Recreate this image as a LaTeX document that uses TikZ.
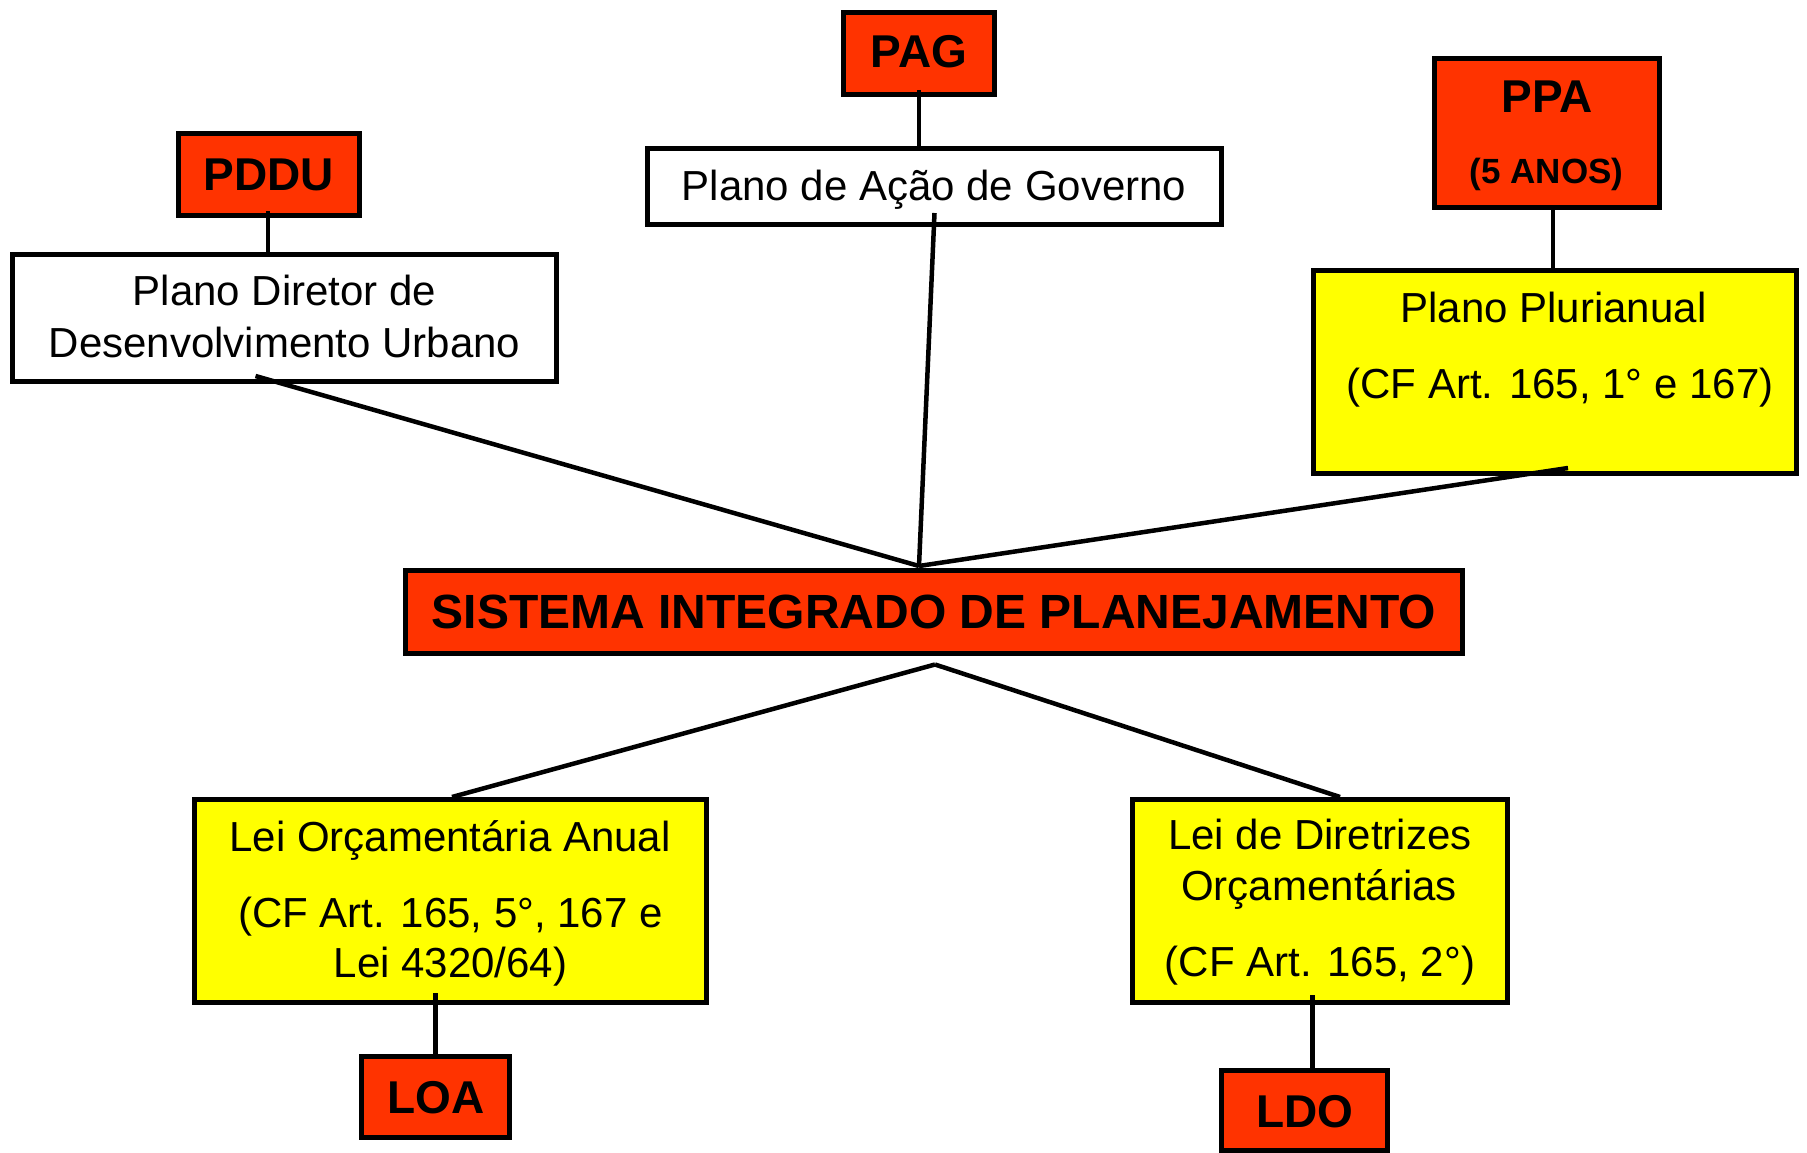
\documentclass[tikz,border=0pt]{standalone}
\usepackage{fontspec}
\setmainfont{Liberation Sans}
\usetikzlibrary{calc}
\definecolor{boxred}{HTML}{FF3300}
\definecolor{boxyellow}{HTML}{FFFF00}
\begin{document}
\begin{tikzpicture}[x=1pt,y=-1pt,
  box/.style={draw=black, line width=5pt, inner sep=0pt},
  redbox/.style={box, fill=boxred},
  ylwbox/.style={box, fill=boxyellow},
  whtbox/.style={box, fill=white},
  conn/.style={draw=black, line width=4.5pt},
  txt/.style={anchor=base, inner sep=0pt, font=\fontsize{42}{50}\selectfont},
  btxt/.style={anchor=base, inner sep=0pt, font=\fontsize{46}{55}\selectfont\bfseries},
  bigtxt/.style={anchor=base, inner sep=0pt, font=\fontsize{48}{58}\selectfont\bfseries},
  smalltxt/.style={anchor=base, inner sep=0pt, font=\fontsize{35}{42}\selectfont\bfseries},
]
\useasboundingbox[fill=white] (0,0) rectangle (1807,1153);

% boxes
\node[redbox, minimum width=151pt, minimum height=82pt] (pag) at (919,53.5) {};
\node[whtbox, minimum width=574pt, minimum height=76pt] (acao) at (934.5,186.5) {};
\node[redbox, minimum width=181pt, minimum height=82pt] (pddu) at (269,174.5) {};
\node[whtbox, minimum width=544pt, minimum height=127pt] (diretor) at (284.5,318) {};
\node[redbox, minimum width=225pt, minimum height=149pt] (ppa) at (1547,133) {};
\node[ylwbox, minimum width=483pt, minimum height=203pt] (plurianual) at (1555,372) {};
\node[redbox, minimum width=1057pt, minimum height=83pt] (sis) at (934,612) {};
\node[ylwbox, minimum width=512pt, minimum height=203pt] (leiloa) at (450.5,901) {};
\node[redbox, minimum width=148pt, minimum height=81pt] (loa) at (435.5,1097) {};
\node[ylwbox, minimum width=375pt, minimum height=203pt] (leildo) at (1320,901) {};
\node[redbox, minimum width=166pt, minimum height=80pt] (ldo) at (1304.5,1110.5) {};

% connection points
\coordinate (sistop) at ($(sis.north)+(-15,-2)$);
\coordinate (sisbot) at ($(sis.south)+(1,8.5)$);
\coordinate (ppaout) at ($(ppa.south)+(6,0)$);
\coordinate (pdduout) at ($(pddu.south)+(-1,-7)$);
\coordinate (pagout) at ($(pag.south)+(0,-7)$);

% connectors
\draw[conn] (pdduout) -- (pdduout |- diretor.north);
\draw[conn] (pagout) -- (pagout |- acao.north);
\draw[conn] (ppaout) -- (ppaout |- plurianual.north);
\draw[conn] ($(diretor.south)+(-29,-8)$) -- (sistop);
\draw[conn] ($(acao.south)+(0,-14)$) -- (sistop);
\draw[conn] ($(plurianual.south)+(13,-8)$) -- (sistop);
\draw[conn] (sisbot) -- ($(leiloa.north)+(1.5,0)$);
\draw[conn] (sisbot) -- ($(leildo.north)+(20,0)$);
\draw[conn] ($(loa.north)+(0,-61)$) -- (loa.north);
\draw[conn] ($(ldo.north)+(8,-73)$) -- ($(ldo.north)+(8,0)$);

% texts
\node[btxt] (tpag) at (919,68) {PAG};
\node[txt] (tacao) at (934,200) {Plano de Ação de Governo};
\node[btxt] (tpddu) at (268.5,190) {PDDU};
\node[txt] (tdir1) at (284.5,305) {Plano Diretor de};
\node[txt] (tdir2) at (284.5,357) {Desenvolvimento Urbano};
\node[btxt] (tppa) at (1547.5,113) {PPA};
\node[smalltxt] (tppa2) at (1546.5,183) {(5 ANOS)};
\node[txt] (tplu1) at (1553.5,322) {Plano Plurianual};
\node[txt] (tplu2) at (1560,398) {(CF Art. 165, 1° e 167)};
\node[bigtxt] (tsis) at (934,628) {SISTEMA INTEGRADO DE PLANEJAMENTO};
\node[txt] (tloa1) at (450,851) {Lei Orçamentária Anual};
\node[txt] (tloa2) at (450.5,927) {(CF Art. 165, 5°, 167 e};
\node[txt] (tloa3) at (450.5,977) {Lei 4320/64)};
\node[btxt] (tloa) at (436,1113) {LOA};
\node[txt] (tldo1) at (1320,849) {Lei de Diretrizes};
\node[txt] (tldo2) at (1319,900) {Orçamentárias};
\node[txt] (tldo3) at (1320,976) {(CF Art. 165, 2°)};
\node[btxt] (tldo) at (1305,1127) {LDO};
\end{tikzpicture}
\end{document}
